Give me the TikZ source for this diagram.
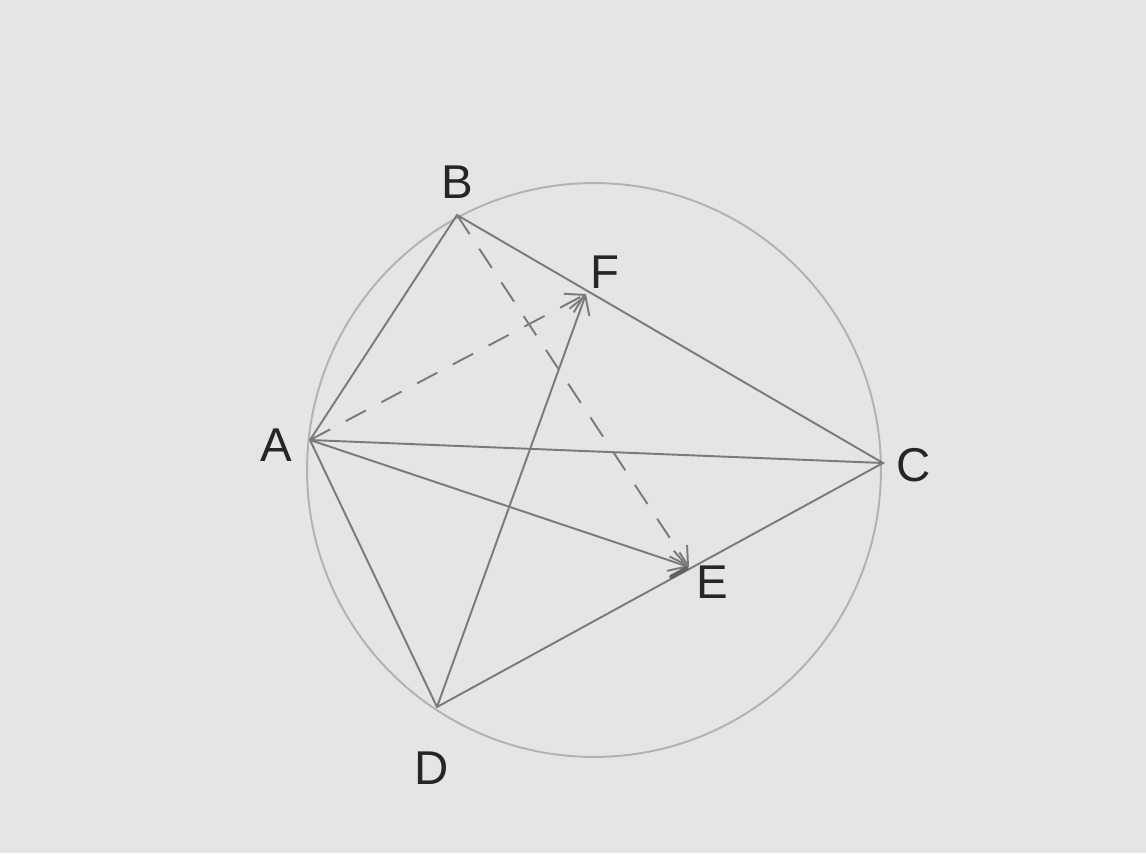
\documentclass[tikz,border=0pt]{standalone}
\usepackage{fontspec}
\setmainfont{Liberation Sans}
\usetikzlibrary{arrows.meta,calc,positioning}
\definecolor{paper}{RGB}{229,229,231}
\definecolor{lead}{RGB}{122,122,124}
\definecolor{leadlight}{RGB}{178,178,180}

\begin{document}
\begin{tikzpicture}[x=0.02cm, y=-0.02cm,
    pencil/.style={draw=lead, line width=1.1pt},
    rim/.style={draw=leadlight, line width=1.1pt},
    vecarrow/.style={pencil, -{Straight Barb[length=10pt, width=12pt]}},
    dasharrow/.style={vecarrow, dash pattern=on 13pt off 10pt},
    ptlabel/.style={font=\fontsize{27}{30}\selectfont, text=black!85, inner sep=0pt}
]

% ── Paper ──
\fill[paper] (0,0) rectangle (1146,853);

% ── Points ──
\coordinate (O) at (594,470);
\coordinate (A) at (310,440);
\coordinate (B) at (457,215);
\coordinate (C) at (883,463);
\coordinate (D) at (437,707);
\coordinate (E) at (689,567);
\coordinate (F) at (586,294);

% ── Circumcircle ──
\draw[rim] (O) circle[radius=5.74cm];

% ── Quadrilateral and diagonal ──
\draw[pencil] (A) -- (B) -- (C) -- (D) -- cycle;
\draw[pencil] (A) -- (C);

% ── Vectors ──
\draw[vecarrow] (A) -- (E);
\draw[vecarrow] (D) -- (F);
\draw[dasharrow] (A) -- (F);
\draw[dasharrow] (B) -- (E);

% ── Mark at E ──
\draw[draw=lead!80!black, line width=2.4pt, line cap=round] ($(E)!0.07!(D)$) -- ($(E)!0.01!(D)$);

% ── Labels ──
\node[ptlabel] (labA) at (276,445) {A};
\node[ptlabel] (labB) at (457,182) {B};
\node[ptlabel] (labC) at (914,465) {C};
\node[ptlabel] (labD) at (432,768) {D};
\node[ptlabel] (labE) at (712,582) {E};
\node[ptlabel] (labF) at (605,272) {F};

\end{tikzpicture}
\end{document}
